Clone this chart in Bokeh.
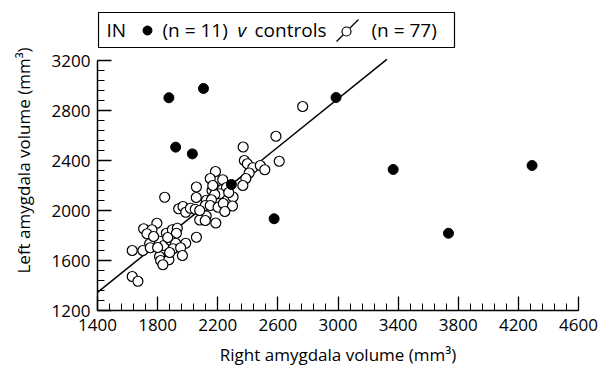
import numpy as np
from bokeh.plotting import figure
from bokeh.models import Range1d, FixedTicker
from bokeh.embed import file_html
from bokeh.resources import INLINE
from bokeh.core.properties import value

# ---------------- data ----------------
ctrl_right = [2765, 2587, 2369, 2609, 2377, 2397, 2433, 2483, 2513, 2409, 2387, 2367,
              2185, 2150, 2233, 2058, 2162, 2198, 2230, 2258, 2213, 2180, 2302, 2057,
              1847, 2125, 2158, 2117, 2150, 2202, 2237, 2298, 2247, 1940, 1969, 1987,
              2018, 2050, 2123, 2080, 2117, 2187, 2058, 1795, 1707, 1762, 1729, 1858,
              1898, 1931, 1925, 1780, 1813, 1747, 1842, 1887, 1920, 1987, 1631, 1702,
              1751, 1902, 1953, 1965, 1813, 1820, 1875, 1835, 1631, 1669,
              1867, 1800, 2167, 2273, 2080, 1773, 1880]
ctrl_left = [2832, 2594, 2508, 2394, 2400, 2374, 2342, 2360, 2326, 2300, 2256, 2200,
             2312, 2256, 2246, 2188, 2160, 2166, 2168, 2184, 2134, 2128, 2108, 2104,
             2106, 2082, 2086, 2040, 2040, 2026, 2056, 2036, 1992, 2014, 2032, 1986,
             2018, 2010, 1956, 1924, 1920, 1900, 1786, 1898, 1854, 1846, 1814, 1818,
             1846, 1858, 1818, 1760, 1754, 1734, 1720, 1760, 1738, 1738, 1680, 1680,
             1702, 1694, 1702, 1640, 1632, 1600, 1606, 1566, 1472, 1434,
             1784, 1704, 2200, 2144, 2000, 1792, 1664]

in_right = [1875, 2105, 1920, 2031, 2291, 2575, 2987, 3367, 3735, 4291]
in_left = [2902, 2976, 2507, 2453, 2208, 1934, 2904, 2328, 1818, 2360]

fit_x = [1400, 3325]
fit_slope = 0.968
fit_y_at_1400 = 1345

x_ticks = [1400, 1800, 2200, 2600, 3000, 3400, 3800, 4200, 4600]
y_ticks = [1200, 1600, 2000, 2400, 2800, 3200]

legend_texts = ["IN", "(n = 11)", "controls", "(n = 77)"]
legend_italic = ["v"]

FONT = "Open Sans"
FS = "17px"
LFS = "19px"

# ---------------- layout geometry (pixels) ----------------
W, H = 605, 368
BL, BR, BT, BB = 97, 27, 10, 58
FRAME_W = W - BL - BR                  # 481
FRAME_H = H - BT - BB                  # 300
X0, X1 = x_ticks[0], x_ticks[-1]
UPX = (X1 - X0) / FRAME_W              # data units per px (x)
UPY = (y_ticks[-1] - y_ticks[0]) / 250.0  # 2000 units over 250 px
Y0 = y_ticks[0]
YTOP = Y0 + UPY * FRAME_H              # head-room above the axis for the legend
FL, FT = 98, 10                        # reference page position of frame left / top


def px_x(px):   # reference page x pixel -> data x
    return X0 + (px - FL) * UPX


def px_y(py):   # reference page y pixel -> data y
    return YTOP - (py - FT) * UPY


p = figure(width=W, height=H,
           x_range=Range1d(X0, X1), y_range=Range1d(Y0, YTOP),
           output_backend="svg", toolbar_location=None,
           min_border_left=BL, min_border_right=BR,
           min_border_top=BT, min_border_bottom=BB)
p.outline_line_color = None
p.grid.visible = False
p.background_fill_color = "white"

p.xaxis.ticker = FixedTicker(ticks=x_ticks, minor_ticks=list(np.arange(x_ticks[0], x_ticks[-1] + 1, 80)))
p.yaxis.ticker = FixedTicker(ticks=y_ticks, minor_ticks=list(np.arange(y_ticks[0], y_ticks[-1] + 1, 80)))
p.yaxis.bounds = (y_ticks[0], y_ticks[-1])

for ax in (p.xaxis, p.yaxis):
    ax.axis_line_color = "black"
    ax.axis_line_width = 1.5
    ax.major_tick_in = 14
    ax.major_tick_out = 0
    ax.minor_tick_in = 7
    ax.minor_tick_out = 0
    ax.major_tick_line_color = "black"
    ax.major_tick_line_width = 1.3
    ax.minor_tick_line_color = "black"
    ax.minor_tick_line_width = 1.0
    ax.major_label_text_font = FONT
    ax.major_label_text_font_size = FS
    ax.major_label_text_color = "black"
    ax.axis_label_text_font = FONT
    ax.axis_label_text_font_size = FS
    ax.axis_label_text_font_style = "normal"
    ax.axis_label_text_color = "black"

p.xaxis.axis_label = "Right amygdala volume (mm³)"
p.yaxis.axis_label = "Left amygdala volume (mm³)"
p.xaxis.major_label_standoff = 8
p.yaxis.major_label_standoff = 7
p.xaxis.axis_label_standoff = 9
p.yaxis.axis_label_standoff = 14

fit_y = [fit_y_at_1400 + fit_slope * (xv - fit_x[0]) for xv in fit_x]
p.line(fit_x, fit_y, line_color="black", line_width=1.5)

p.scatter(ctrl_right, ctrl_left, size=10, marker="circle",
          fill_color="white", line_color="black", line_width=1.2)
p.scatter(in_right, in_left, size=10, marker="circle",
          fill_color="black", line_color="black")

# ---------------- legend box (page-pixel layout) ----------------
ty = px_y(29.5)
p.quad(left=[px_x(99)], right=[px_x(455)], top=[px_y(12)], bottom=[px_y(47)],
       fill_color=None, line_color="black", line_width=1.2)
p.text(x=[px_x(107), px_x(163), px_x(255), px_x(372)], y=[ty] * 4, text=legend_texts,
       text_font=value(FONT), text_font_size=LFS, text_baseline="middle",
       text_align="left", text_color="black")
p.text(x=[px_x(238)], y=[ty], text=legend_italic,
       text_font=value(FONT), text_font_size=LFS, text_font_style="italic",
       text_baseline="middle", text_align="left", text_color="black")
p.scatter([px_x(148)], [px_y(30)], size=9, marker="circle", fill_color="black", line_color="black")
p.segment(x0=[px_x(337)], y0=[px_y(41)], x1=[px_x(359)], y1=[px_y(19)],
          line_color="black", line_width=1.2)
p.scatter([px_x(347)], [px_y(31)], size=9, marker="circle", fill_color="white",
          line_color="black", line_width=1.2)

open("out.html", "w").write(file_html(p, INLINE))
